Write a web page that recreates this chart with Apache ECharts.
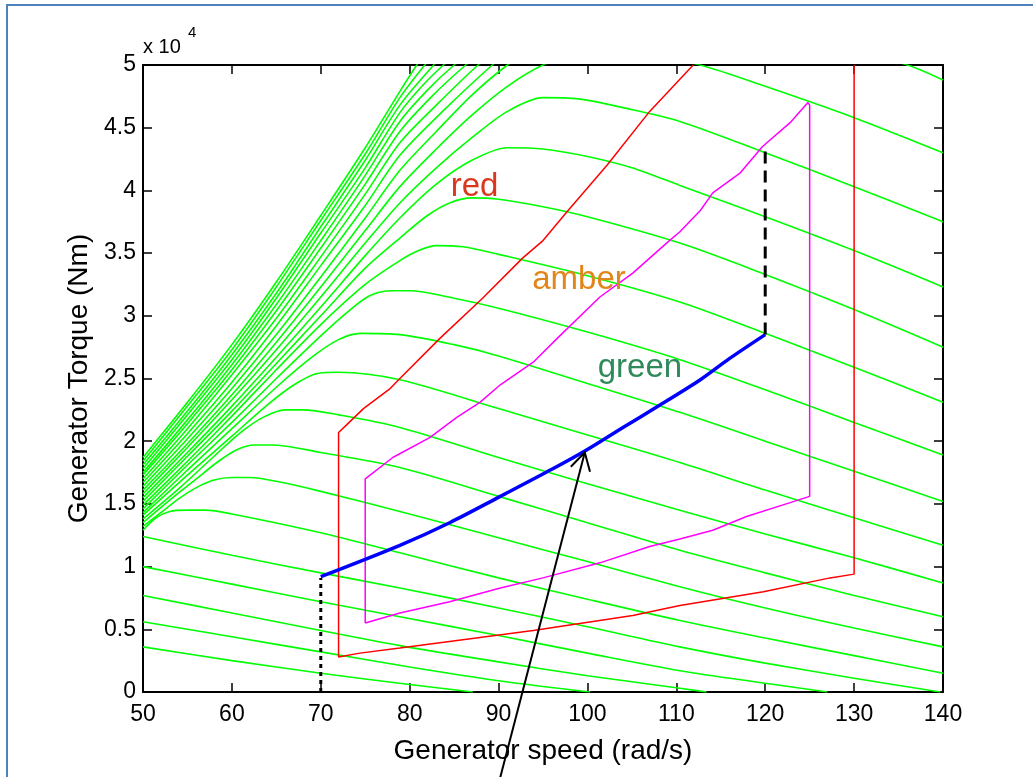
<!DOCTYPE html>
<html>
<head>
<meta charset="utf-8">
<script src="https://cdn.jsdelivr.net/npm/echarts@6/dist/echarts.min.js"></script>
<style>
  html, body { margin: 0; padding: 0; background: #fff; }
  #chart { width: 1033px; height: 777px; }
</style>
</head>
<body>
<div id="chart"></div>
<script>
// axes: generator speed (rad/s) and generator torque (x 10^4 Nm)
const speedMin = 50, speedMax = 140, speedStep = 10
const torqueMin = 0, torqueMax = 5, torqueStep = 0.5

// green torque/speed curves, [speed, torque], lowest curve first
const g01 = [[50,0.36],[60,0.25],[70,0.15],[80,0.06],[87.1,0]]
const g02 = [[50,0.56],[60,0.44],[70,0.32],[80,0.2],[90,0.09],[100.3,0]]
const g03 = [[50,0.77],[60,0.63],[70,0.49],[78.9,0.37],[90,0.24],[100,0.13],[110.4,0.03],[113.4,0]]
const g04 = [[50,1.0],[60,0.86],[70,0.72],[78.9,0.6],[90,0.45],[100,0.31],[110.4,0.17],[120,0.07],[127,0]]
const g05 = [[50,1.24],[60,1.09],[70,0.95],[78.9,0.83],[90,0.67],[100,0.52],[110.4,0.36],[120,0.23],[130,0.11],[139.7,0]]
const g06 = [[50,1.29],[51.5,1.39],[53,1.44],[55,1.45],[57,1.45],[60,1.42],[70,1.27],[78.9,1.11],[90,0.91],[100,0.74],[110.4,0.57],[120,0.43],[130,0.29],[140,0.15]]
const g07 = [[50,1.32],[52,1.43],[54,1.54],[56,1.63],[58,1.69],[60,1.71],[62,1.71],[65,1.68],[70,1.6],[78.9,1.44],[90,1.23],[100,1.04],[110.4,0.84],[120,0.67],[130,0.51],[140,0.36]]
const g08 = [[50,1.35],[53,1.53],[56,1.7],[58.5,1.84],[60.5,1.93],[62.5,1.97],[64.5,1.97],[70,1.91],[78.9,1.79],[90,1.56],[100,1.35],[110.4,1.13],[120,0.95],[130,0.77],[140,0.6]]
const g09 = [[50,1.38],[54,1.62],[58,1.88],[61,2.07],[63.5,2.19],[66,2.25],[68,2.25],[72,2.21],[78.9,2.11],[90,1.87],[100,1.66],[110.4,1.45],[120,1.26],[130,1.07],[140,0.87]]
const g10 = [[50,1.41],[55,1.73],[60,2.04],[64,2.29],[67,2.45],[69.6,2.54],[72,2.55],[78.9,2.49],[90,2.26],[100,2.05],[110.4,1.83],[120,1.61],[130,1.39],[140,1.17]]
const g11 = [[50,1.43],[55,1.77],[60,2.1],[65,2.43],[69,2.67],[72,2.81],[74.5,2.86],[78.9,2.85],[85,2.77],[90,2.68],[100,2.46],[110.4,2.23],[120,2.0],[130,1.76],[140,1.52]]
const g12 = [[50,1.46],[55,1.81],[60,2.15],[65,2.5],[70,2.84],[73,3.03],[75.5,3.16],[78,3.2],[80,3.2],[85,3.14],[90,3.06],[100,2.87],[110.4,2.65],[120,2.41],[130,2.15],[140,1.89]]
const g13 = [[50,1.49],[55,1.84],[60,2.2],[65,2.57],[70,2.93],[75,3.25],[78.9,3.44],[81,3.52],[83,3.56],[86,3.55],[90,3.49],[100,3.32],[110.4,3.11],[120,2.86],[130,2.59],[140,2.31]]
const g14 = [[50,1.52],[55,1.88],[60,2.24],[65,2.62],[70,3.0],[75,3.38],[78.9,3.62],[82,3.8],[84.5,3.9],[87,3.94],[90,3.93],[95,3.87],[100,3.79],[110.4,3.58],[120,3.33],[130,3.05],[140,2.75]]
const g15 = [[50,1.55],[55,1.91],[60,2.28],[65,2.67],[70,3.07],[75,3.48],[78.9,3.78],[83,4.05],[87,4.24],[91,4.34],[95,4.33],[100,4.27],[105,4.18],[110.4,4.04],[120,3.79],[130,3.52],[140,3.23]]
const g16 = [[50,1.58],[55,1.95],[60,2.33],[65,2.73],[70,3.15],[75,3.58],[78.9,3.9],[83,4.18],[87,4.42],[91,4.63],[95,4.74],[99,4.73],[104,4.66],[110.4,4.55],[120,4.3],[130,4.03],[140,3.75]]
const g17 = [[50,1.61],[55,1.98],[60,2.37],[65,2.79],[70,3.23],[75,3.68],[78.9,4.03],[83,4.33],[87,4.6],[91,4.83],[95,5.0],[99,5.09],[104,5.1],[108,5.06],[112.7,5.0],[120,4.83],[130,4.58],[140,4.3]]
const g18 = [[50,1.64],[55,2.02],[60,2.42],[65,2.85],[70,3.31],[75,3.78],[78.9,4.16],[83,4.47],[87,4.76],[91,5.0],[96,5.24],[102,5.38],[108,5.42],[115,5.37],[125,5.21],[136,5.0],[140,4.88]]
const g19 = [[50,1.67],[55,2.06],[60,2.47],[65,2.92],[70,3.4],[75,3.88],[78.9,4.28],[84,4.65],[89.3,5.0],[92,5.15]]
const g20 = [[50,1.70],[55,2.10],[60,2.53],[65,2.98],[70,3.47],[75,3.97],[78.9,4.38],[83,4.68],[87.7,5.0],[90,5.12]]
const g21 = [[50,1.73],[55,2.14],[60,2.57],[65,3.04],[70,3.54],[75,4.05],[78.9,4.47],[82.5,4.75],[86.3,5.0],[88.5,5.12]]
const g22 = [[50,1.75],[55,2.17],[60,2.61],[65,3.09],[70,3.60],[75,4.12],[78.9,4.55],[82,4.8],[85,5.0],[87,5.1]]
const g23 = [[50,1.78],[55,2.21],[60,2.65],[65,3.14],[70,3.66],[75,4.18],[78.9,4.62],[81.5,4.84],[83.8,5.0],[85.5,5.1]]
const g24 = [[50,1.81],[55,2.24],[60,2.69],[65,3.18],[70,3.71],[75,4.24],[78.9,4.68],[82.7,5.0],[84,5.1]]
const g25 = [[50,1.84],[55,2.28],[60,2.73],[65,3.23],[70,3.76],[75,4.29],[78.9,4.74],[81.7,5.0],[83,5.1]]
const g26 = [[50,1.87],[55,2.31],[60,2.77],[65,3.27],[70,3.80],[75,4.34],[78.9,4.79],[80.8,5.0],[82,5.12]]

// red zone boundary
const redZone = [[111.9,5.0],[107,4.63],[102.2,4.2],[97.7,3.83],[95,3.6],[92.7,3.46],[88.2,3.14],[83.4,2.82],[78.9,2.5],[77.8,2.42],[76.3,2.34],[74.8,2.26],[72.9,2.13],[72,2.07],[72,0.28],[74.4,0.31],[78.9,0.35],[93.9,0.49],[105.1,0.61],[110.4,0.69],[119.8,0.8],[127.3,0.91],[130,0.94],[130,5.0]]
// amber zone boundary
const amberZone = [[75,0.55],[75,1.7],[78.1,1.87],[82.3,2.03],[85.3,2.19],[87.9,2.31],[90.2,2.45],[93.9,2.63],[96.6,2.82],[101.4,3.15],[105.1,3.34],[108.9,3.58],[110.4,3.67],[112.7,3.84],[114.1,3.98],[117.2,4.14],[119.7,4.35],[122.8,4.54],[124.8,4.7],[125,4.68],[125,1.56],[122.8,1.51],[117.9,1.4],[114.1,1.29],[110.4,1.22],[107,1.16],[101.4,1.03],[95,0.91],[90.2,0.83],[84.5,0.72],[78.9,0.63],[75,0.55]]
// green (blue) operating line
const opLine = [[70,0.92],[78.9,1.17],[84.5,1.35],[90.2,1.56],[96.1,1.78],[99.9,1.93],[104,2.11],[108.2,2.29],[112.7,2.49],[116,2.66],[120,2.85]]
const dashedLimit = [[120,2.85],[120,4.35]]
const dottedStart = [[70,0],[70,0.91]]

// annotations (data coordinates)
const arrowTail = [89.9,-0.76]
const arrowTip = [99.7,1.91]
const noteTexts = ['red', 'amber', 'green']
const notePos = [[87.3,4.03],[99.05,3.285],[105.9,2.584]]

const FONT = '"Liberation Sans", Arial, Helvetica, sans-serif'
const greenCurves = [g01,g02,g03,g04,g05,g06,g07,g08,g09,g10,g11,g12,g13,g14,g15,g16,g17,g18,g19,g20,g21,g22,g23,g24,g25,g26]

const series = greenCurves.map(pts => ({
  type: 'line',
  data: pts,
  symbol: 'none',
  smooth: 0.3,
  silent: true,
  z: 2,
  lineStyle: { color: '#00ff00', width: 1.6 }
}))
series.push(
  { type: 'line', data: redZone, symbol: 'none', silent: true, z: 3, lineStyle: { color: '#ff0000', width: 1.5 } },
  { type: 'line', data: amberZone, symbol: 'none', silent: true, z: 3, lineStyle: { color: '#ff00ff', width: 1.5 } },
  { type: 'line', data: opLine, symbol: 'none', smooth: 0.3, silent: true, z: 4, lineStyle: { color: '#0000ff', width: 3.5 } },
  { type: 'line', data: dashedLimit, symbol: 'none', silent: true, z: 4, lineStyle: { color: '#000', width: 3, type: [12, 7] } },
  { type: 'line', data: dottedStart, symbol: 'none', silent: true, z: 4, lineStyle: { color: '#000', width: 3, type: [4, 4] } }
)

const axisCommon = {
  type: 'value',
  splitLine: { show: false },
  axisLine: { show: true, onZero: false, lineStyle: { color: '#000', width: 2 } },
  axisTick: { show: true, inside: true, length: 9, lineStyle: { color: '#000', width: 1.5 } }
}

const chart = echarts.init(document.getElementById('chart'))
chart.setOption({
  animation: false,
  backgroundColor: '#fff',
  grid: { left: 143, right: 90, top: 65, bottom: 85, outerBoundsMode: 'none' },
  xAxis: [
    Object.assign({}, axisCommon, {
      position: 'bottom', min: speedMin, max: speedMax, interval: speedStep,
      axisLabel: { color: '#000', fontSize: 23, fontFamily: FONT, margin: 11 },
      name: 'Generator speed (rad/s)', nameLocation: 'middle', nameGap: 45,
      nameTextStyle: { color: '#000', fontSize: 28, fontFamily: FONT }
    }),
    Object.assign({}, axisCommon, {
      position: 'top', min: speedMin, max: speedMax, interval: speedStep,
      axisLabel: { show: false }
    })
  ],
  yAxis: [
    Object.assign({}, axisCommon, {
      position: 'left', min: torqueMin, max: torqueMax, interval: torqueStep,
      axisLabel: { color: '#000', fontSize: 23, fontFamily: FONT, margin: 7 },
      name: 'Generator Torque (Nm)', nameLocation: 'middle', nameGap: 46, nameRotate: 90,
      nameTextStyle: { color: '#000', fontSize: 28, fontFamily: FONT }
    }),
    Object.assign({}, axisCommon, {
      position: 'right', min: torqueMin, max: torqueMax, interval: torqueStep,
      axisLabel: { show: false }
    })
  ],
  series: series
})

// annotations placed through the chart's own coordinate conversion
const toPx = p => chart.convertToPixel({ gridIndex: 0 }, p)
const tail = toPx(arrowTail), tip = toPx(arrowTip)
const dx = tail[0] - tip[0], dy = tail[1] - tip[1], len = Math.hypot(dx, dy)
const ux = dx / len, uy = dy / len
const arm = a => [tip[0] + 20 * (ux * Math.cos(a) - uy * Math.sin(a)), tip[1] + 20 * (ux * Math.sin(a) + uy * Math.cos(a))]
const noteColors = ['#d9381e', '#e0861a', '#2e8a5a']

const graphics = [
  { type: 'rect', silent: true, shape: { x: 7, y: 5, width: 1100, height: 900 }, style: { fill: 'none', stroke: '#4f81bd', lineWidth: 2 } },
  { type: 'text', silent: true, x: 143, y: 47, style: { text: 'x 10', fill: '#000', font: '20px ' + FONT, verticalAlign: 'middle' } },
  { type: 'text', silent: true, x: 188, y: 33, style: { text: '4', fill: '#000', font: '15px ' + FONT, verticalAlign: 'middle' } },
  { type: 'line', silent: true, z: 10, shape: { x1: tail[0], y1: tail[1], x2: tip[0], y2: tip[1] }, style: { stroke: '#000', lineWidth: 2 } },
  { type: 'polyline', silent: true, z: 10, shape: { points: [arm(0.52), tip, arm(-0.52)] }, style: { stroke: '#000', lineWidth: 2, fill: 'none' } }
]
noteTexts.forEach((t, i) => {
  const p = toPx(notePos[i])
  graphics.push({ type: 'text', silent: true, z: 10, x: p[0], y: p[1],
    style: { text: t, fill: noteColors[i], font: '33px ' + FONT, align: 'center', verticalAlign: 'middle' } })
})
chart.setOption({ graphic: graphics })
</script>
</body>
</html>
